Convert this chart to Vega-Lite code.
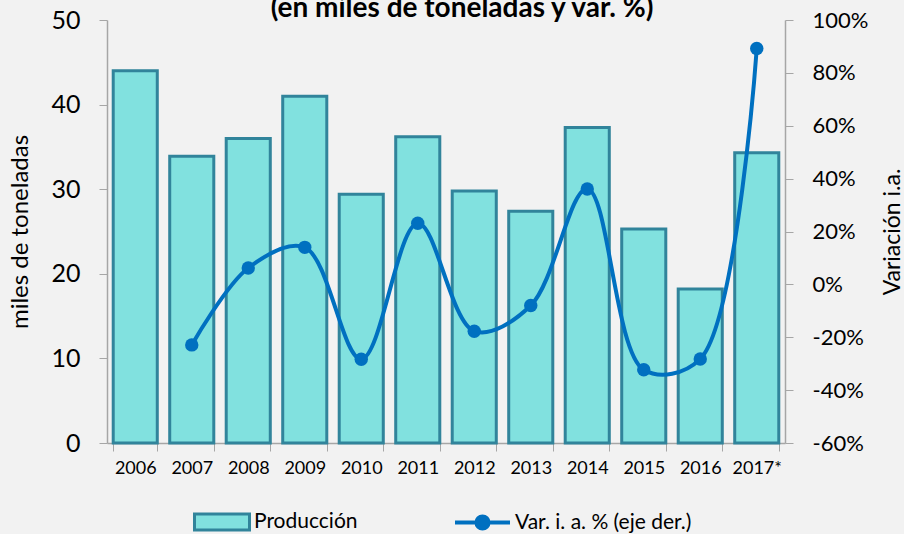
{
  "$schema": "https://vega.github.io/schema/vega-lite/v6.json",
  "autosize": "none",
  "width": 678,
  "height": 423,
  "padding": {"left": 107, "top": 20, "right": 119, "bottom": 91},
  "background": "#F2F2F2",
  "config": {
    "view": {"stroke": null},
    "font": "Lato",
    "axis": {"grid": false, "domainColor": "#A6A6A6", "tickColor": "#A6A6A6", "labelColor": "#000000", "titleColor": "#000000", "titleFontWeight": "normal", "labelFont": "Lato", "titleFont": "Lato"},
    "legend": {"labelFont": "Lato", "labelFontSize": 21, "labelColor": "#000000", "labelLimit": 400}
  },
  "title": {"text": "(en miles de toneladas y var. %)", "fontSize": 28, "fontWeight": "bold", "font": "Lato", "anchor": "middle", "baseline": "alphabetic", "offset": -37, "dx": 16, "color": "#000000"},
  "data": {"values": [
    {"anio": "2006", "prod": 44.0, "var": null, "s1": "Producción", "s2": "Var. i. a. % (eje der.)"},
    {"anio": "2007", "prod": 33.9, "var": -22.9, "s1": "Producción", "s2": "Var. i. a. % (eje der.)"},
    {"anio": "2008", "prod": 36.0, "var": 6.2, "s1": "Producción", "s2": "Var. i. a. % (eje der.)"},
    {"anio": "2009", "prod": 41.0, "var": 14.0, "s1": "Producción", "s2": "Var. i. a. % (eje der.)"},
    {"anio": "2010", "prod": 29.4, "var": -28.3, "s1": "Producción", "s2": "Var. i. a. % (eje der.)"},
    {"anio": "2011", "prod": 36.2, "var": 23.1, "s1": "Producción", "s2": "Var. i. a. % (eje der.)"},
    {"anio": "2012", "prod": 29.8, "var": -17.7, "s1": "Producción", "s2": "Var. i. a. % (eje der.)"},
    {"anio": "2013", "prod": 27.4, "var": -8.0, "s1": "Producción", "s2": "Var. i. a. % (eje der.)"},
    {"anio": "2014", "prod": 37.3, "var": 36.1, "s1": "Producción", "s2": "Var. i. a. % (eje der.)"},
    {"anio": "2015", "prod": 25.3, "var": -32.3, "s1": "Producción", "s2": "Var. i. a. % (eje der.)"},
    {"anio": "2016", "prod": 18.2, "var": -28.2, "s1": "Producción", "s2": "Var. i. a. % (eje der.)"},
    {"anio": "2017*", "prod": 34.3, "var": 89.2, "s1": "Producción", "s2": "Var. i. a. % (eje der.)"}
  ]},
  "encoding": {
    "x": {"field": "anio", "type": "ordinal", "scale": {"paddingInner": 0.22, "paddingOuter": 0.11},
      "axis": {"title": null, "labelAngle": 0, "labelFontSize": 18, "tickBand": "extent", "tickSize": 8, "labelPadding": 8, "domainWidth": 1.5}}
  },
  "layer": [
    {
      "mark": {"type": "bar", "stroke": "#31849B", "strokeWidth": 3},
      "encoding": {
        "y": {"field": "prod", "type": "quantitative", "scale": {"domain": [0, 50]},
          "axis": {"title": "miles de toneladas", "titleFontSize": 24, "titlePadding": 18, "values": [0, 10, 20, 30, 40, 50], "labelFontSize": 25, "tickSize": 8, "labelPadding": 19, "domainWidth": 1.5}},
        "fill": {"field": "s1", "type": "nominal", "scale": {"range": ["#81E1DF"]},
          "legend": {"title": null, "orient": "none", "legendX": 86, "legendY": 473, "symbolType": "M-1,-0.29H1V0.29H-1Z", "symbolSize": 3025, "symbolStrokeColor": "#31849B", "symbolStrokeWidth": 3, "labelOffset": 3}}
      }
    },
    {
      "mark": {"type": "rule", "stroke": "#A6A6A6", "strokeWidth": 1.5, "strokeDash": [6, 4]},
      "encoding": {
        "y": {"datum": 0, "type": "quantitative", "scale": {"domain": [-60, 100]}, "axis": null}
      }
    },
    {
      "mark": {"type": "line", "interpolate": "catmull-rom", "strokeWidth": 4},
      "transform": [{"filter": "datum['var'] != null"}],
      "encoding": {
        "y": {"field": "var", "type": "quantitative", "scale": {"domain": [-60, 100]},
          "axis": {"orient": "right", "title": "Variación i.a.", "titleAngle": 270, "titleFontSize": 23, "titlePadding": 37, "values": [-60, -40, -20, 0, 20, 40, 60, 80, 100], "labelExpr": "datum.value + '%'", "labelFontSize": 22, "tickSize": 8, "labelPadding": 19, "domainWidth": 1.5}},
        "stroke": {"field": "s2", "type": "nominal", "scale": {"range": ["#0070C0"]},
          "legend": {"title": null, "orient": "none", "legendX": 346, "legendY": 473, "symbolType": "M-1,0H1M0.22,0A0.22,0.22,0,1,1,-0.22,0A0.22,0.22,0,1,1,0.22,0Z", "symbolSize": 3025, "symbolFillColor": "#0070C0", "symbolStrokeWidth": 4, "labelOffset": 3}}
      }
    },
    {
      "mark": {"type": "point", "filled": true, "size": 180, "opacity": 1, "color": "#0070C0"},
      "transform": [{"filter": "datum['var'] != null"}],
      "encoding": {
        "y": {"field": "var", "type": "quantitative", "scale": {"domain": [-60, 100]}, "axis": null}
      }
    }
  ],
  "resolve": {"scale": {"y": "independent"}}
}
